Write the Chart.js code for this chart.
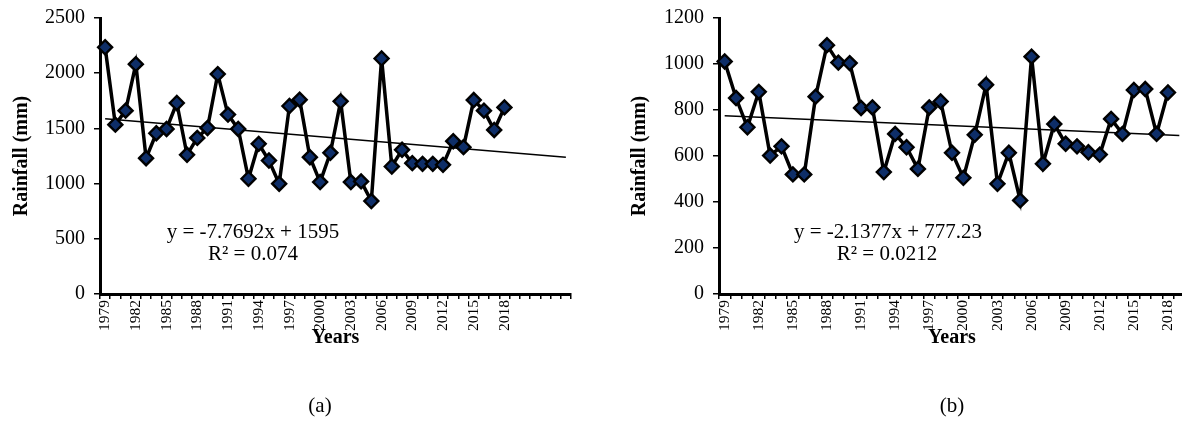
<!DOCTYPE html>
<html>
<head>
<meta charset="utf-8">
<script src="https://cdn.jsdelivr.net/npm/chart.js@4.4.1/dist/chart.umd.min.js"></script>
<style>
  html, body { margin: 0; padding: 0; background: #fff; width: 1182px; height: 437px; overflow: hidden; }
  .wrap { position: absolute; top: -3px; height: 440px; }
  #wrapA { left: 0; width: 590px; }
  #wrapB { left: 590px; width: 620px; }
  .txt { position: absolute; font: 21px "Liberation Serif", "Times New Roman", serif; color: #000;
         transform: translate(-50%, -50%); white-space: nowrap; line-height: 1; }
</style>
</head>
<body>
<div class="wrap" id="wrapA"><canvas id="chartA" width="590" height="440"></canvas></div>
<div class="wrap" id="wrapB"><canvas id="chartB" width="620" height="440"></canvas></div>

<div class="txt" style="left:253px;top:231px">y = -7.7692x + 1595</div>
<div class="txt" style="left:253px;top:253px">R² = 0.074</div>
<div class="txt" style="left:888px;top:231px">y = -2.1377x + 777.23</div>
<div class="txt" style="left:887px;top:253px">R² = 0.0212</div>
<div class="txt" style="left:320px;top:405px">(a)</div>
<div class="txt" style="left:952px;top:405px">(b)</div>

<script>
// ── data ────────────────────────────────────────────────────────────
// category axes run past 2018 because the excel trendline was forecast forward
const yearsA = ["1979","1980","1981","1982","1983","1984","1985","1986","1987","1988",
  "1989","1990","1991","1992","1993","1994","1995","1996","1997","1998",
  "1999","2000","2001","2002","2003","2004","2005","2006","2007","2008",
  "2009","2010","2011","2012","2013","2014","2015","2016","2017","2018",
  "2019","2020","2021","2022","2023","2024"];
const yearsB = yearsA.slice(0, 41);
const shownYears = ["1979","1982","1985","1988","1991","1994","1997","2000",
  "2003","2006","2009","2012","2015","2018"];

// (a) annual rainfall, mm
const rainA = [2235, 1534, 1661, 2082, 1230, 1456, 1495, 1730, 1261, 1414,
  1504, 1992, 1625, 1495, 1044, 1360, 1209, 999, 1703, 1760,
  1239, 1014, 1279, 1745, 1014, 1020, 842, 2133, 1155, 1306,
  1185, 1179, 1179, 1170, 1384, 1330, 1757, 1661, 1486, 1690];
// (b) seasonal rainfall, mm
const rainB = [1011, 852, 725, 879, 602, 642, 520, 520, 858, 1082,
  1006, 1004, 809, 811, 530, 696, 638, 544, 811, 837,
  614, 505, 692, 910, 479, 614, 407, 1032, 566, 739,
  653, 642, 616, 606, 761, 696, 887, 891, 696, 876];

// linear trend, value at first and last category
const trendEndsA = [1587.2, 1237.6];
const trendEndsB = [775.1, 689.6];

const ticksA = { max: 2500, step: 500 };
const ticksB = { max: 1200, step: 200 };

// ── chart ───────────────────────────────────────────────────────────
const SERIF = '"Liberation Serif", "Times New Roman", serif';

function trendData(cats, ends) {
  return cats.map((_, i) => (i === 0 ? ends[0] : i === cats.length - 1 ? ends[1] : null));
}

function makeChart(id, cats, rain, ends, yt, yAxisW, titlePad, padRight) {
  return new Chart(document.getElementById(id), {
    type: "line",
    data: {
      labels: cats,
      datasets: [
        {
          data: rain,
          borderColor: "#000",
          borderWidth: 3.5,
          pointStyle: "rectRot",
          pointRadius: 7,
          pointBorderWidth: 2.4,
          pointBorderColor: "#000",
          pointBackgroundColor: "#0e2e68",
          tension: 0,
          order: 1,
        },
        {
          data: trendData(cats, ends),
          borderColor: "#000",
          borderWidth: 1.5,
          pointRadius: 0,
          spanGaps: true,
          order: 2,
        },
      ],
    },
    options: {
      responsive: false,
      animation: false,
      devicePixelRatio: 1,
      // canvas sits 3px higher than the page, so the axis lands at page y=294
      layout: { padding: { left: 0, top: 14, right: padRight, bottom: 440 - 297 - 56 } },
      plugins: { legend: { display: false }, tooltip: { enabled: false } },
      scales: {
        x: {
          type: "category",
          offset: true,
          afterFit: (s) => { s.height = 56; },
          grid: { offset: true, drawOnChartArea: false, drawTicks: true, tickLength: 5, color: "#000", lineWidth: 1.5 },
          border: { display: true, color: "#000", width: 3 },
          ticks: {
            autoSkip: false, maxRotation: 90, minRotation: 90, padding: 1,
            color: "#000", font: { family: SERIF, size: 15.5 },
            callback: (v, i) => (shownYears.includes(cats[i]) ? cats[i] : ""),
          },
          title: { display: true, text: "Years", color: "#000", padding: 0,
                   font: { family: SERIF, size: 20, weight: "bold" } },
        },
        y: {
          min: 0, max: yt.max,
          afterFit: (s) => { s.width = yAxisW; },
          grid: { drawOnChartArea: false, drawTicks: true, tickLength: 6, color: "#000", lineWidth: 1.5 },
          border: { display: true, color: "#000", width: 3 },
          ticks: { stepSize: yt.step, padding: 9, color: "#000", font: { family: SERIF, size: 20 },
                   callback: (v) => String(v) },
          title: { display: true, text: "Rainfall (mm)", color: "#000", padding: { top: titlePad, bottom: 0 },
                   font: { family: SERIF, size: 20, weight: "bold" } },
        },
      },
    },
  });
}

makeChart("chartA", yearsA, rainA, trendEndsA, ticksA, 100, 10, 19);
makeChart("chartB", yearsB, rainB, trendEndsB, ticksB, 129, 38, 25);
</script>
</body>
</html>
